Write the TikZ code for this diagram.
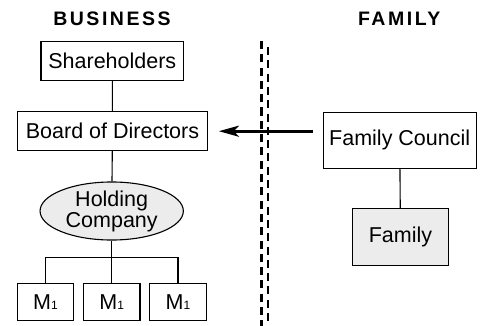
\documentclass[tikz,border=0pt]{standalone}
\usepackage{fontspec}
\setmainfont{Liberation Sans}
\usetikzlibrary{arrows.meta,shapes.geometric}

\begin{document}
\begin{tikzpicture}[x=1pt,y=-1pt,
    every node/.style={font=\fontsize{21.5}{21}\selectfont},
    heading/.style={font=\fontsize{19.5}{21}\selectfont\bfseries\addfontfeatures{LetterSpace=13}},
    unit/.style={draw,line width=1.1pt,inner sep=0pt},
    shaded/.style={fill=gray!15}]
      \useasboundingbox (0,0) rectangle (481,326);
      \node[heading] (business) at (112,18.7) {BUSINESS};
      \node[heading] (family) at (399.3,18.7) {FAMILY};
      \node[unit,minimum width=142.7pt,minimum height=38.6pt] (share) at (112.3,61) {Shareholders};
      \node[unit,minimum width=190.4pt,minimum height=38.7pt] (board) at (112.5,131.2) {Board of Directors};
      \node[unit,shaded,ellipse,minimum width=143.3pt,minimum height=56.6pt,align=center] (holding) at (111.7,211) {Holding\\Company};
      \node[unit,minimum width=56.5pt,minimum height=37.3pt] (m1) at (45.5,302) {M{\fontsize{12}{12}\selectfont 1}};
      \node[unit,minimum width=56.5pt,minimum height=37.3pt] (m2) at (111.7,302) {M{\fontsize{12}{12}\selectfont 1}};
      \node[unit,minimum width=56.5pt,minimum height=37.3pt] (m3) at (178,302) {M{\fontsize{12}{12}\selectfont 1}};
      \node[unit,minimum width=152.7pt,minimum height=56pt] (council) at (399.7,140.3) {Family Council};
      \node[unit,shaded,minimum width=95.7pt,minimum height=56.7pt] (fam) at (400.5,236.7) {Family};
      \coordinate (split) at (111.7,257.7);
      \coordinate (from) at (312.7,131.2);
      \begin{scope}[line width=1.1pt]
        \draw (share) -- (board);
        \draw (board) -- (holding);
        \draw (holding) -- (split);
        \draw (m1.north) |- (split) -| (m3.north);
        \draw (split) -- (m2.north);
        \draw (council) -- (fam);
      \end{scope}
      % dividing line
      \begin{scope}[line width=2.4pt,dash pattern=on 8pt off 5.3pt]
        \draw (261.3,41) -- (261.3,326);
        \draw (268,47) -- (268,326);
      \end{scope}
      \draw[line width=3pt,-{Stealth[length=20pt,width=11pt,inset=5pt]},shorten >=10.6pt] (from) -- (from -| board.east);
    \end{tikzpicture}
\end{document}
